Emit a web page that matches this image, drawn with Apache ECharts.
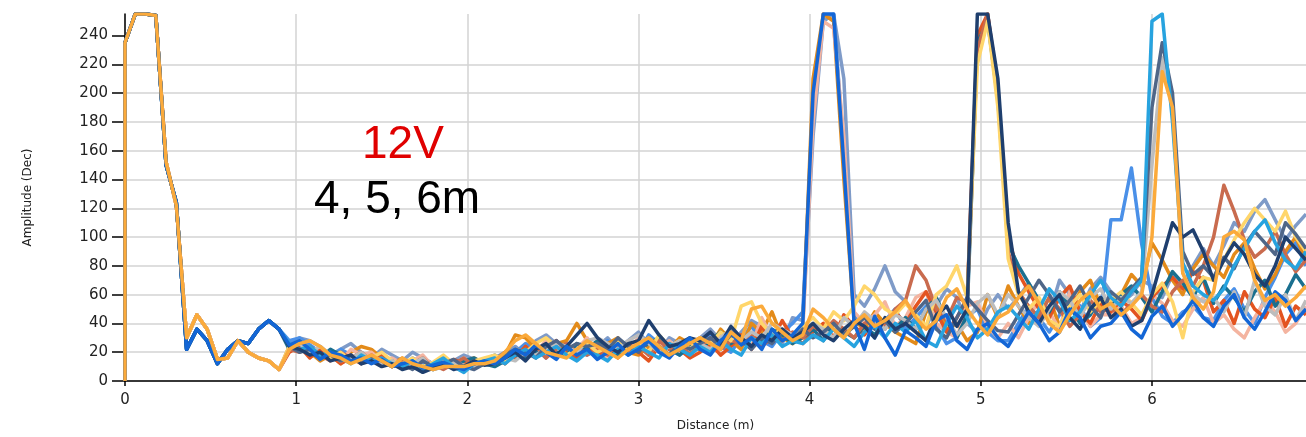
<!DOCTYPE html>
<html>
<head>
<meta charset="utf-8">
<script src="https://cdn.jsdelivr.net/npm/echarts@6/dist/echarts.min.js"></script>
<style>
html,body{margin:0;padding:0;background:#fff;}
#chart{width:1306px;height:437px;}
</style>
</head>
<body>
<div id="chart"></div>
<script>
// ---- data ----
const STEP = 0.06;                 // sample spacing in metres
const yTicks = [0,20,40,60,80,100,120,140,160,180,200,220,240];
const xTicks = [0,1,2,3,4,5,6];

// common start of the traces (0 - 0.9 m); first value is the sample at distance 0
const headA = [0,235,255,255,254,150,124,22,36,28,12,22,28,26,36,42,36];
const headB = [0,235,255,255,254,152,122,30,46,36,15,16,28,20,16,14,8];

// remainder of each trace, 0.96 m ... 6.90 m
const strongBlue = [25,28,22,15,20,18,14,16,12,15, 10,12,14,9,11,13,10,8,12,14, 12,16,22,18,25,20,15,24,18,22, 15,20,26,18,22,28,20,16,24,30, 22,18,28,34,25,30,22,36,28,32, 40,200,255,255,150,40,22,45,30,18, 35,30,24,42,46,28,22,36,40,30, 24,36,48,40,28,34,50,44,30,38, 40,48,36,30,45,52,38,46,56,44, 38,52,60,44,36,48,62,56,42,50];
const lightBlue = [28,30,25,20,16,22,18,12,15,18, 14,10,16,12,8,10,14,12,9,15, 18,14,20,26,22,16,28,20,25,18, 22,28,18,24,20,32,26,22,18,28, 26,32,24,20,30,38,28,24,34,40, 48,190,255,255,160,45,38,30,42,50, 36,44,52,38,26,30,45,50,34,28, 28,40,52,44,34,46,60,52,38,44, 112,112,148,95,58,45,40,48,52,44, 42,56,64,50,40,58,72,88,96,80];
const darkOrange = [24,26,20,14,18,12,20,24,22,16, 12,16,10,8,12,15,10,13,16,12, 14,18,32,30,22,20,26,28,40,28, 22,26,30,20,18,24,28,22,30,26, 30,24,36,28,22,40,34,48,30,26, 38,210,255,250,140,42,36,48,40,34, 30,26,48,54,36,40,28,34,60,44, 66,52,40,46,58,38,48,62,70,52, 52,60,74,66,96,84,70,60,78,88, 80,72,88,96,78,64,74,90,100,84];
const salmon = [22,24,18,20,16,14,22,18,20,14, 16,12,14,18,10,15,12,16,11,13, 16,12,18,22,20,28,24,18,22,30, 20,16,26,22,30,18,24,28,20,26, 28,22,32,26,30,24,44,30,36,28, 35,180,250,245,170,48,40,46,55,38, 44,58,62,40,34,30,52,55,38,30, 40,30,44,56,48,36,62,50,38,46, 46,52,40,44,60,54,42,38,50,58, 40,46,36,30,44,56,48,34,40,52];
const greyBlue = [26,30,28,24,18,22,26,20,16,22, 18,14,20,16,12,10,14,18,15,12, 16,20,24,18,28,32,26,20,24,28, 24,30,22,28,34,26,20,30,26,22, 30,36,28,24,34,42,38,30,26,44, 42,170,250,255,210,60,52,64,80,62, 55,46,38,52,64,58,40,34,50,60, 50,58,68,56,46,70,60,48,64,72, 62,54,60,70,66,58,74,68,80,92, 80,94,110,104,118,126,112,98,108,116];
const navy = [24,22,18,20,14,16,18,12,14,10, 12,8,10,6,9,12,8,10,14,11, 12,16,20,14,22,26,18,24,32,40, 30,24,20,26,28,42,32,24,26,30, 28,34,26,38,30,24,32,28,36,30, 34,40,32,28,36,42,38,30,44,36, 40,34,28,46,52,38,50,255,255,210, 110,62,48,40,52,60,44,36,50,58, 44,50,38,42,60,85,110,100,105,90, 70,84,96,88,74,66,80,100,92,84];
const redOrange = [20,24,16,22,18,12,16,20,14,18, 10,14,12,16,9,11,15,12,10,13, 14,20,16,24,18,22,28,20,16,24, 18,22,16,26,20,14,24,18,22,16, 20,26,18,24,32,22,38,28,42,30, 26,34,40,30,46,38,32,42,36,48, 40,52,62,48,34,44,56,240,255,200, 100,75,62,50,44,58,66,48,40,54, 48,56,50,42,58,66,72,64,76,70, 48,56,40,62,50,44,58,38,52,46];
const teal = [22,26,20,16,22,18,14,18,16,12, 14,10,12,15,8,12,10,14,16,12, 10,14,18,16,20,24,20,18,26,22, 28,20,18,24,22,26,30,22,18,24, 22,28,34,26,30,24,28,36,32,26, 30,36,28,40,34,30,38,32,42,36, 44,36,50,58,42,30,46,235,250,195, 95,80,68,56,48,62,52,40,46,58, 52,60,66,58,48,62,76,68,58,72, 54,66,58,48,62,70,52,60,74,64];
const rust = [22,20,24,18,14,20,16,12,18,14, 12,15,10,14,11,8,12,16,10,12, 16,12,20,18,24,16,22,26,20,18, 22,18,26,20,24,18,28,22,26,20, 24,30,22,28,26,32,24,30,28,34, 30,38,34,42,36,30,40,44,38,50, 56,80,70,50,42,58,55,230,255,205, 90,62,52,44,58,50,38,46,56,48, 50,46,54,60,52,48,62,70,66,80, 100,136,118,98,86,92,104,88,76,84];
const yellow = [24,28,22,18,16,20,14,18,16,20, 14,12,16,10,13,18,12,9,14,16, 18,14,22,20,26,30,24,18,22,26, 20,24,28,22,26,20,32,24,28,22, 30,26,34,28,52,55,40,32,36,30, 38,44,36,48,42,52,66,60,50,46, 54,46,38,60,66,80,58,220,250,190, 85,60,50,58,42,38,52,60,48,56, 56,62,54,46,60,68,55,30,62,72, 70,84,98,110,120,112,104,118,100,90];
const skyBlue = [26,22,24,18,20,16,12,18,14,16, 12,10,14,8,12,16,10,6,12,14, 16,12,18,22,16,20,24,18,14,20, 18,14,22,18,24,20,16,26,22,18, 24,20,28,22,18,30,26,32,24,28, 26,32,28,36,30,24,34,38,30,40, 34,42,28,24,40,52,44,30,36,48, 52,44,36,50,64,56,42,48,60,70, 58,52,62,70,250,255,180,82,66,60, 56,64,80,92,104,112,96,84,78,90];
const slate = [24,20,22,16,18,14,18,12,16,14, 10,12,8,14,10,12,15,10,8,12, 14,18,22,20,16,24,28,22,26,24, 26,22,30,24,20,28,24,18,26,22, 26,30,24,32,28,22,30,26,34,28, 36,30,34,40,32,38,44,36,42,34, 40,48,56,36,30,44,58,50,42,35, 34,46,58,70,60,48,56,66,52,44, 62,56,64,72,190,235,200,90,74,80, 72,86,78,94,104,96,88,110,102,92];
const grey = [22,26,20,24,18,14,16,20,14,12, 14,10,12,16,8,10,13,11,9,12, 12,16,14,20,18,22,26,24,20,28, 30,26,22,28,32,26,20,24,28,22, 26,22,30,36,28,34,30,40,36,32, 34,40,36,30,44,38,48,42,36,46, 42,36,50,56,44,32,40,54,60,46, 60,52,44,38,50,62,56,44,58,64, 50,58,54,62,150,225,190,75,60,55, 58,48,62,44,70,52,46,60,42,56];
const orange = [22,26,28,24,18,16,12,15,18,14, 10,16,12,10,8,10,10,10,12,12, 14,20,28,32,26,20,18,16,22,28, 24,20,16,22,26,30,24,18,22,26, 30,26,22,34,28,50,52,40,34,28, 32,50,44,36,30,40,46,38,42,48, 56,44,36,42,58,64,50,40,32,44, 48,58,66,54,40,34,46,56,62,50, 54,46,52,60,100,215,190,75,58,50, 62,100,104,98,70,56,60,52,58,66];

const traces = [
  {name:'t1',  head:headA, tail:greyBlue,   color:'#7F9BC8'},
  {name:'t2',  head:headA, tail:lightBlue,  color:'#4A90E8'},
  {name:'t3',  head:headB, tail:darkOrange, color:'#E38B1A'},
  {name:'t4',  head:headB, tail:salmon,     color:'#F4B4A0'},
  {name:'t5',  head:headB, tail:redOrange,  color:'#E35420'},
  {name:'t6',  head:headA, tail:teal,       color:'#1A6F8F'},
  {name:'t7',  head:headB, tail:rust,       color:'#C96B4E'},
  {name:'t8',  head:headB, tail:yellow,     color:'#FFD66B'},
  {name:'t9',  head:headB, tail:grey,       color:'#BDBDBD'},
  {name:'t10', head:headA, tail:slate,      color:'#4F6688'},
  {name:'t11', head:headA, tail:skyBlue,    color:'#27A3DF'},
  {name:'t12', head:headA, tail:navy,       color:'#1F3F6E'},
  {name:'t13', head:headA, tail:strongBlue, color:'#1366D6'},
  {name:'t14', head:headB, tail:orange,     color:'#FBAA3B'}
];

function distanceAt(j){ return j === 0 ? 0 : +((j-1)*STEP).toFixed(3); }

const series = traces.map(t => {
  const vals = t.head.concat(t.tail);
  return {
    name: t.name, type:'line', showSymbol:false, symbol:'none',
    data: vals.map((v,j) => [distanceAt(j), v]),
    lineStyle:{color:t.color, width:3.5, join:'round'},
    itemStyle:{color:t.color},
    emphasis:{disabled:true}, silent:true
  };
});

const chart = echarts.init(document.getElementById('chart'), null, {renderer:'canvas'});
chart.setOption({
  animation:false,
  backgroundColor:'#ffffff',
  grid:{left:125, right:0, top:14, bottom:55, containLabel:false},
  xAxis:{
    type:'value', min:0, max:6.9, interval:1,
    name:'Distance (m)', nameLocation:'middle', nameGap:39,
    nameTextStyle:{fontFamily:'DejaVu Sans', fontSize:12, color:'#222'},
    axisLine:{show:true, onZero:false, lineStyle:{color:'#000', width:1.5}},
    axisTick:{show:true, length:5, customValues:xTicks, lineStyle:{color:'#000', width:1.5}},
    axisLabel:{customValues:xTicks, fontFamily:'DejaVu Sans', fontSize:15, color:'#222', margin:12},
    splitLine:{show:true, lineStyle:{color:'#D3D3D3', width:1.5}}
  },
  yAxis:{
    type:'value', min:0, max:255, interval:20,
    name:'Amplitude (Dec)', nameLocation:'middle', nameGap:91,
    nameTextStyle:{fontFamily:'DejaVu Sans', fontSize:12, color:'#222'},
    axisLine:{show:true, onZero:false, lineStyle:{color:'#000', width:1.5}},
    axisTick:{show:true, inside:false, length:13, customValues:yTicks, lineStyle:{color:'#000', width:1.5}},
    axisLabel:{customValues:yTicks, fontFamily:'DejaVu Sans', fontSize:15, color:'#222', margin:17},
    splitLine:{show:true, showMaxLine:false, lineStyle:{color:'#D3D3D3', width:1.5}}
  },
  graphic:[
    {type:'text', left:362, top:122, z:100, style:{text:'12V', fill:'#E00000', font:'46px "Liberation Sans"'}},
    {type:'text', left:314, top:177, z:100, style:{text:'4, 5, 6m', fill:'#000000', font:'46px "Liberation Sans"'}}
  ],
  series: series
});
</script>
</body>
</html>
